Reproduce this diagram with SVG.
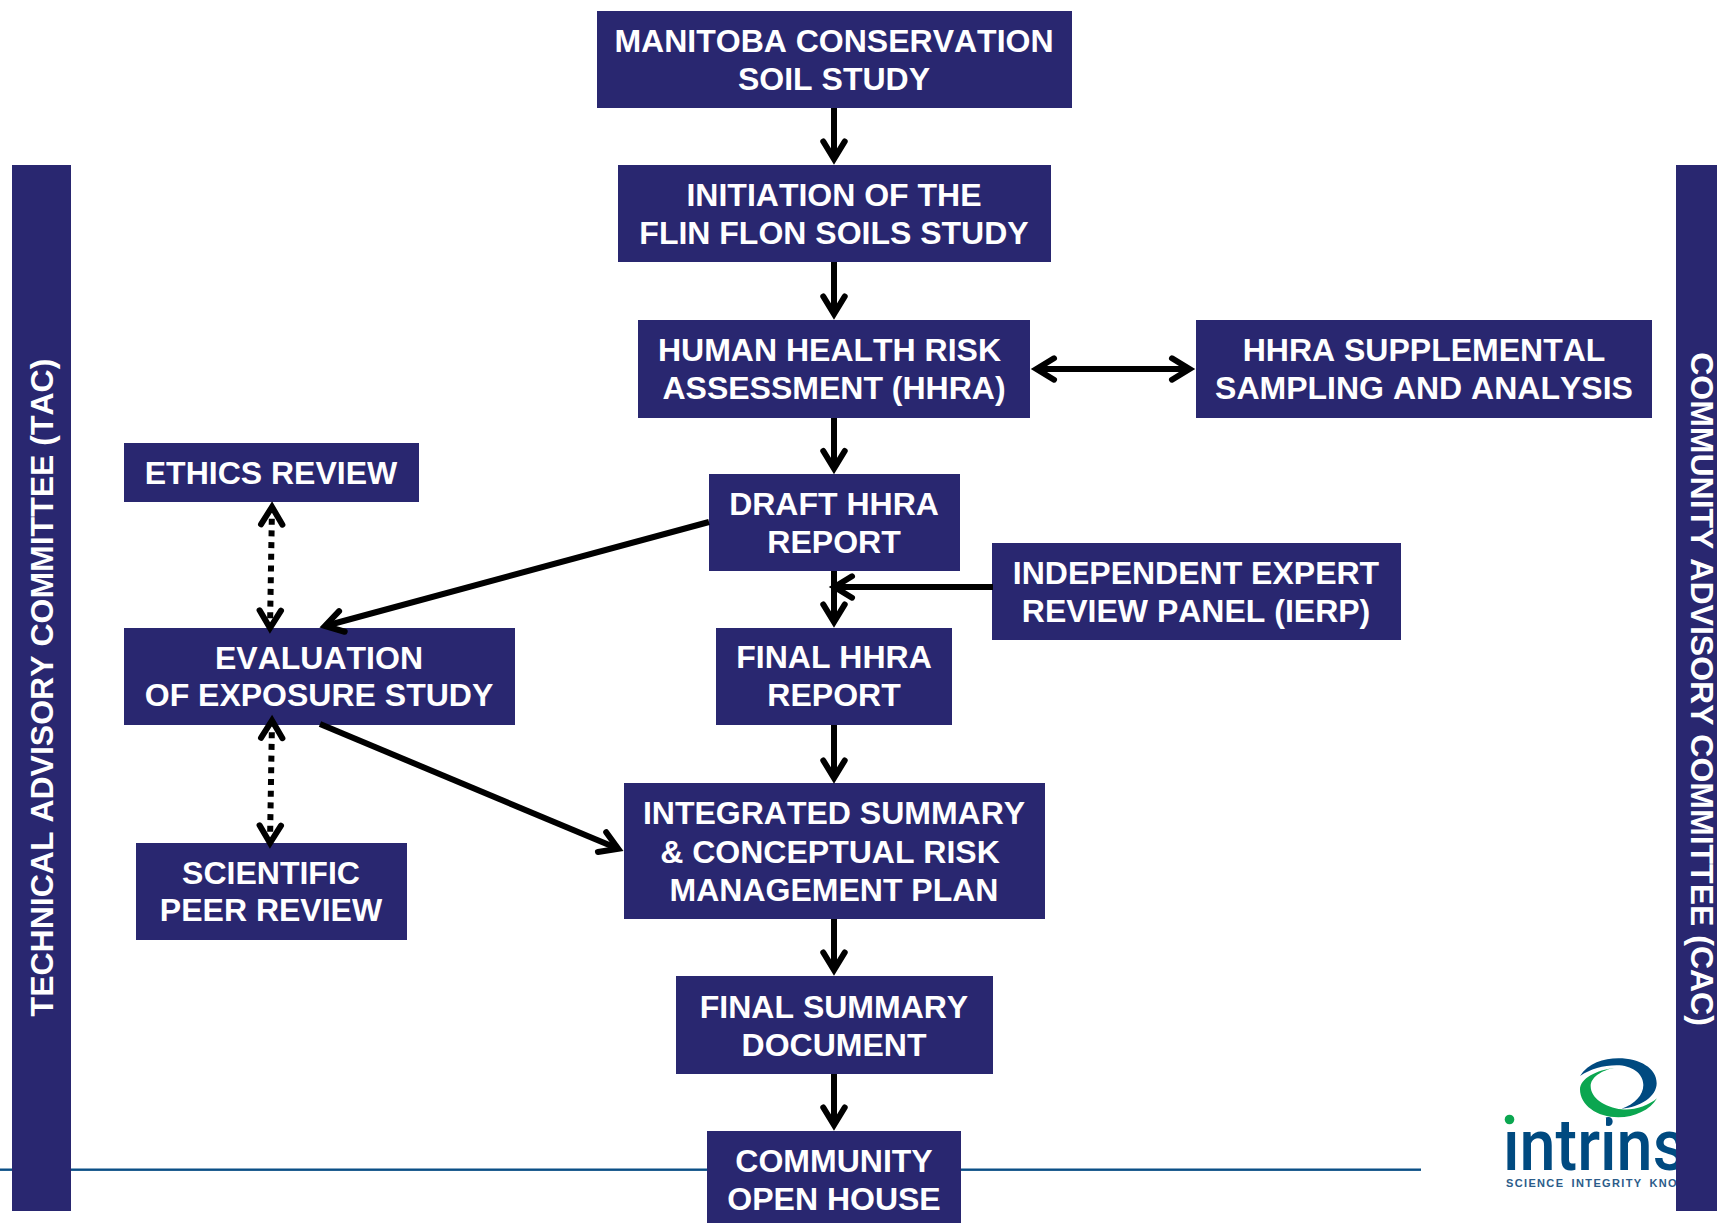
<svg xmlns="http://www.w3.org/2000/svg" width="1717" height="1223" viewBox="0 0 1717 1223">
<style>
.box{fill:#292770}
.t{font-family:"Liberation Sans",Arial,sans-serif;font-weight:700;font-size:32px;font-kerning:none;fill:#fff;text-anchor:middle}
.c{fill:none;stroke:#000;stroke-width:6}
.d{stroke-dasharray:6 5.7}
.one{marker-end:url(#ah)}
.two{marker-end:url(#ah);marker-start:url(#ahs)}
</style>
<defs>
<marker id="ah" markerUnits="userSpaceOnUse" markerWidth="40" markerHeight="40" refX="20" refY="20" orient="auto" overflow="visible"><path d="M2.5,9.3L20,20L2.5,30.7" fill="none" stroke="#000" stroke-width="6" stroke-linecap="round" stroke-linejoin="miter"/></marker>
<marker id="ahs" markerUnits="userSpaceOnUse" markerWidth="40" markerHeight="40" refX="20" refY="20" orient="auto-start-reverse" overflow="visible"><path d="M2.5,9.3L20,20L2.5,30.7" fill="none" stroke="#000" stroke-width="6" stroke-linecap="round" stroke-linejoin="miter"/></marker>
</defs>
<rect width="1717" height="1223" fill="#fff"/>
<rect id="footer-rule" x="0" y="1168.5" width="1421" height="2.4" fill="#0b4f86"/>
<g id="logo">
<g transform="translate(1400,1000) scale(0.33333)">
<path fill="#004a80" d="M540,228C565,190 610,175 655,175C720,175 770,205 770,250C770,290 720,322 665,326C705,312 730,285 730,255C730,220 695,196 650,196C610,196 570,208 540,228Z"/>
<path fill="#0ba650" d="M645,203C590,210 540,235 540,268C540,315 590,352 655,352C705,352 750,330 771,295C745,318 700,332 665,328C615,322 572,295 572,258C572,232 605,210 645,203Z"/>
</g>
<text x="1503" y="1170" font-family="Roboto,'Liberation Sans',sans-serif" font-size="73" font-weight="500" fill="#004a80" textLength="183" lengthAdjust="spacingAndGlyphs">intrins</text>
<rect x="1594" y="1118" width="12" height="13" fill="#fff"/>
<rect x="1504" y="1110" width="14" height="21" fill="#fff"/>
<circle cx="1509.5" cy="1119.5" r="4.8" fill="#0ba650"/>
<text x="1506" y="1187" font-family="'Liberation Sans',sans-serif" font-size="11.5" font-weight="700" fill="#2b5c8a" letter-spacing="1.4" word-spacing="3" textLength="172" lengthAdjust="spacingAndGlyphs">SCIENCE INTEGRITY KNO</text>
</g>
<g id="tac"><rect class="box" x="12" y="165" width="59" height="1046"/><text class="t" transform="translate(53,687.5) rotate(-90)">TECHNICAL ADVISORY COMMITTEE (TAC)</text></g>
<g id="cac"><rect class="box" x="1676" y="165" width="41" height="1046"/><text class="t" transform="translate(1691,689) rotate(90)">COMMUNITY ADVISORY COMMITTEE (CAC)</text></g>
<g id="manitoba"><rect class="box" x="597" y="11" width="475" height="97"/><text class="t" x="834" y="52">MANITOBA CONSERVATION</text><text class="t" x="834" y="90">SOIL STUDY</text></g>
<g id="initiation"><rect class="box" x="618" y="165" width="433" height="97"/><text class="t" x="834" y="206">INITIATION OF THE</text><text class="t" x="834" y="244">FLIN FLON SOILS STUDY</text></g>
<g id="hhra"><rect class="box" x="638" y="320" width="392" height="98"/><text class="t" x="829.5" y="361">HUMAN HEALTH RISK</text><text class="t" x="834" y="399">ASSESSMENT (HHRA)</text></g>
<g id="supplemental"><rect class="box" x="1196" y="320" width="456" height="98"/><text class="t" x="1424" y="361">HHRA SUPPLEMENTAL</text><text class="t" x="1424" y="399">SAMPLING AND ANALYSIS</text></g>
<g id="ethics"><rect class="box" x="124" y="443" width="295" height="59"/><text class="t" x="271" y="484">ETHICS REVIEW</text></g>
<g id="draft"><rect class="box" x="709" y="474" width="251" height="97"/><text class="t" x="834" y="515">DRAFT HHRA</text><text class="t" x="834" y="553">REPORT</text></g>
<g id="ierp"><rect class="box" x="992" y="543" width="409" height="97"/><text class="t" x="1196" y="584">INDEPENDENT EXPERT</text><text class="t" x="1196" y="622">REVIEW PANEL (IERP)</text></g>
<g id="evaluation"><rect class="box" x="124" y="628" width="391" height="97"/><text class="t" x="319" y="669">EVALUATION</text><text class="t" x="319" y="706">OF EXPOSURE STUDY</text></g>
<g id="final-hhra"><rect class="box" x="716" y="628" width="236" height="97"/><text class="t" x="834" y="668">FINAL HHRA</text><text class="t" x="834" y="706">REPORT</text></g>
<g id="integrated"><rect class="box" x="624" y="783" width="421" height="136"/><text class="t" x="834" y="823.5">INTEGRATED SUMMARY</text><text class="t" x="830" y="863">&amp; CONCEPTUAL RISK</text><text class="t" x="834" y="901">MANAGEMENT PLAN</text></g>
<g id="scientific"><rect class="box" x="136" y="843" width="271" height="97"/><text class="t" x="271" y="884">SCIENTIFIC</text><text class="t" x="271" y="921">PEER REVIEW</text></g>
<g id="final-summary"><rect class="box" x="676" y="976" width="317" height="98"/><text class="t" x="834" y="1018">FINAL SUMMARY</text><text class="t" x="834" y="1056">DOCUMENT</text></g>
<g id="open-house"><rect class="box" x="707" y="1131" width="254" height="92"/><text class="t" x="834" y="1172">COMMUNITY</text><text class="t" x="834" y="1210">OPEN HOUSE</text></g>
<g id="connectors">
<line class="c one" x1="834" y1="108" x2="834" y2="159"/>
<line class="c one" x1="834" y1="262" x2="834" y2="314"/>
<line class="c one" x1="834" y1="418" x2="834" y2="468.5"/>
<line class="c one" x1="834" y1="571" x2="834" y2="622"/>
<line class="c one" x1="993" y1="587" x2="834.5" y2="587"/>
<line class="c one" x1="834" y1="725" x2="834" y2="778"/>
<line class="c one" x1="834" y1="919" x2="834" y2="970"/>
<line class="c one" x1="834" y1="1074" x2="834" y2="1125"/>
<line class="c two" x1="1036.5" y1="369" x2="1189.5" y2="369"/>
<line class="c one" x1="709" y1="522" x2="325" y2="626"/>
<line class="c one" x1="320" y1="724" x2="618.2" y2="848.8"/>
<line class="c d two" x1="272" y1="507" x2="270" y2="628"/>
<line class="c d two" x1="272" y1="720.5" x2="270" y2="843"/>
</g>
</svg>
